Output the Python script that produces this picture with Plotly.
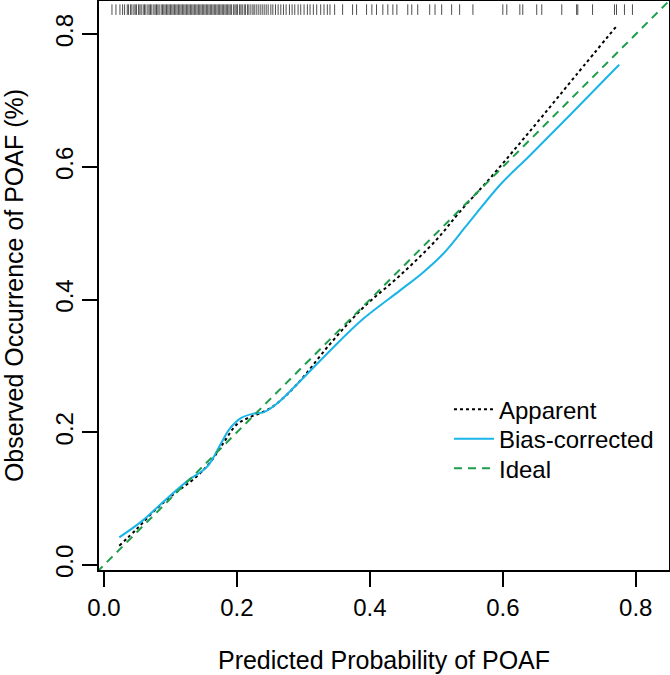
import plotly.graph_objects as go

# Apparent calibration curve (black dotted)
apparent_x = [0.023, 0.05, 0.074, 0.10, 0.139, 0.16, 0.179, 0.20, 0.22, 0.24, 0.257, 0.29,
              0.34, 0.39, 0.445, 0.50, 0.535, 0.58, 0.62, 0.66, 0.71, 0.773]
apparent_y = [0.029, 0.055, 0.080, 0.103, 0.133, 0.155, 0.183, 0.212, 0.223, 0.231, 0.241, 0.272,
              0.333, 0.388, 0.436, 0.49, 0.532, 0.582, 0.629, 0.677, 0.738, 0.8145]

# Bias-corrected calibration curve (blue solid)
bias_x = [0.023, 0.059, 0.089, 0.127, 0.155, 0.177, 0.189, 0.207, 0.2245, 0.24, 0.26, 0.29,
          0.34, 0.39, 0.445, 0.48, 0.51, 0.545, 0.595, 0.64, 0.70, 0.775]
bias_y = [0.0417, 0.0677, 0.095, 0.128, 0.148, 0.185, 0.205, 0.222, 0.228, 0.230, 0.243, 0.272,
          0.323, 0.371, 0.4135, 0.441, 0.4687, 0.511, 0.572, 0.6165, 0.677, 0.754]

# Ideal line y = x
ideal_x = [-0.1, 1.0]
ideal_y = [-0.1, 1.0]

# Distribution of predicted probabilities (rug at the top)
rug_x = [0.012, 0.018, 0.024, 0.028, 0.031, 0.035, 0.037, 0.040, 0.042, 0.045, 0.047, 0.049,
         0.052, 0.054, 0.056, 0.059, 0.061, 0.063, 0.066, 0.068, 0.070, 0.072, 0.075, 0.077,
         0.079, 0.081, 0.083, 0.086, 0.088, 0.090, 0.092, 0.094, 0.096, 0.098, 0.100, 0.102,
         0.104, 0.106, 0.108, 0.110, 0.112, 0.114, 0.116, 0.118, 0.120, 0.122, 0.124, 0.126,
         0.128, 0.130, 0.132, 0.134, 0.136, 0.138, 0.140, 0.142, 0.144, 0.146, 0.148, 0.150,
         0.152, 0.154, 0.156, 0.158, 0.160, 0.162, 0.164, 0.166, 0.168, 0.170, 0.172, 0.174,
         0.176, 0.178, 0.180, 0.182, 0.184, 0.186, 0.188, 0.190, 0.192, 0.195, 0.197, 0.199,
         0.201, 0.204, 0.206, 0.208, 0.211, 0.213, 0.216, 0.218, 0.221, 0.224, 0.226, 0.229,
         0.232, 0.235, 0.238, 0.241, 0.244, 0.247, 0.251, 0.254, 0.258, 0.262, 0.266, 0.270,
         0.274, 0.279, 0.283, 0.287, 0.292, 0.296, 0.301, 0.306, 0.310, 0.315, 0.320, 0.326,
         0.331, 0.336, 0.340, 0.347, 0.359, 0.374, 0.380, 0.395, 0.403, 0.410, 0.4195, 0.427,
         0.4346, 0.4406, 0.457, 0.463, 0.472, 0.490, 0.498, 0.508, 0.523, 0.535, 0.555, 0.600,
         0.606, 0.6256, 0.630, 0.651, 0.6586, 0.6887, 0.711, 0.7128, 0.735, 0.768, 0.771, 0.783,
         0.795]
rug_low = 0.829
rug_high = 0.845

AX_MIN, AX_MAX = -0.0075, 0.85
FONT = "Liberation Sans, Arial, sans-serif"

rx, ry = [], []
for v in rug_x:
    rx += [v, v, None]
    ry += [rug_low, rug_high, None]

fig = go.Figure()
fig.add_trace(go.Scatter(x=rx, y=ry, mode="lines", line=dict(color="black", width=0.7),
                         showlegend=False, hoverinfo="skip"))
fig.add_trace(go.Scatter(x=apparent_x, y=apparent_y, mode="lines", name="Apparent",
                         legend="legend",
                         line=dict(color="black", width=2, dash="dot", shape="spline")))
fig.add_trace(go.Scatter(x=bias_x, y=bias_y, mode="lines", name="Bias-corrected",
                         legend="legend2",
                         line=dict(color="#1AB4E8", width=2, shape="spline")))
fig.add_trace(go.Scatter(x=ideal_x, y=ideal_y, mode="lines", name="Ideal",
                         legend="legend3",
                         line=dict(color="#1E9E4A", width=2, dash="8px,6px")))

axis_common = dict(range=[AX_MIN, AX_MAX], tickvals=[0, 0.2, 0.4, 0.6, 0.8],
                   ticktext=["0.0", "0.2", "0.4", "0.6", "0.8"], automargin=False,
                   showgrid=False, zeroline=False, showline=True, mirror=True,
                   linecolor="black", linewidth=1.5, ticks="outside", ticklen=15,
                   tickwidth=1.5, tickcolor="black",
                   tickfont=dict(family=FONT, size=24, color="black"))

fig.update_xaxes(**axis_common,
                 title=dict(text="Predicted Probability of POAF",
                            font=dict(family=FONT, size=25, color="black"), standoff=32))
fig.update_yaxes(**axis_common, tickangle=-90,
                 title=dict(text="Observed Occurrence of POAF (%)",
                            font=dict(family=FONT, size=25, color="black"), standoff=22))

legend_style = dict(x=0.614, xanchor="left", yanchor="top", bgcolor="rgba(0,0,0,0)",
                    font=dict(family=FONT, size=24, color="black"), itemwidth=40)

fig.update_layout(
    width=670, height=675,
    margin=dict(l=99, r=1, t=1, b=105),
    plot_bgcolor="white", paper_bgcolor="white",
    font=dict(family=FONT, size=20, color="black"),
    legend=dict(y=0.3213, **legend_style),
    legend2=dict(y=0.2694, **legend_style),
    legend3=dict(y=0.2176, **legend_style),
)

fig.write_html("out.html", config={"displayModeBar": False},
               post_script="document.body.style.margin='0px';document.body.style.padding='0px';")
